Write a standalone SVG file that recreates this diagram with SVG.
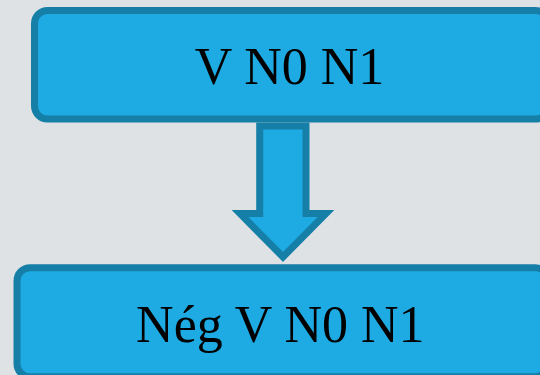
<svg xmlns="http://www.w3.org/2000/svg" width="540" height="375" viewBox="0 0 540 375">
  <style>
    .box { fill: #1eabe3; stroke: #167fa7; stroke-width: 7; }
    .arrow { fill: #1eabe3; stroke: #167fa7; stroke-width: 7; stroke-linejoin: miter; stroke-miterlimit: 4; }
    .label { font-family: "Liberation Serif", "Times New Roman", serif; font-size: 52px; fill: #000; text-anchor: middle; }
  </style>
  <rect width="540" height="375" fill="#dfe2e5"/>
  <g id="connectors">
    <polygon class="arrow" points="259.7,126 259.7,213.5 240,213.5 283,257 326,213.5 306,213.5 306,126"/>
  </g>
  <g id="node-top">
    <rect class="box" x="34.5" y="10.5" width="514" height="108.5" rx="13" ry="13"/>
    <text class="label" x="289.5" y="84">V N0 N1</text>
  </g>
  <g id="node-bottom">
    <rect class="box" x="17" y="267.7" width="531" height="109" rx="13" ry="13"/>
    <text class="label" x="280.3" y="341.7">Nég V N0 N1</text>
  </g>
</svg>
